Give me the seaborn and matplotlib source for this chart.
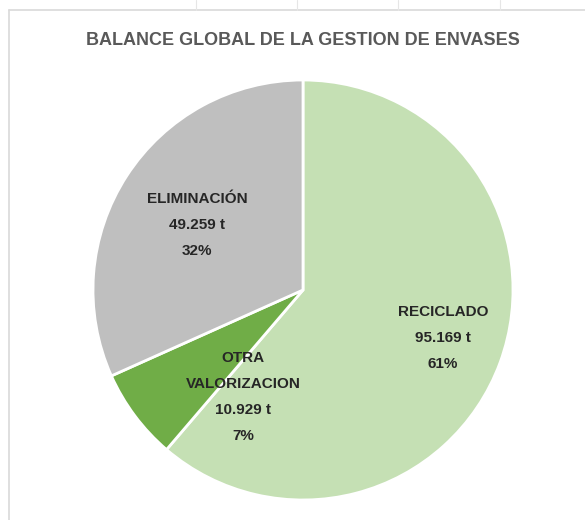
import matplotlib
matplotlib.use("Agg")
import matplotlib.pyplot as plt
import seaborn as sns
from matplotlib.lines import Line2D

sns.set_theme(style="white")
plt.rcParams['font.family'] = ['Liberation Sans', 'DejaVu Sans']

categories = ["RECICLADO", "OTRA\nVALORIZACION", "ELIMINACIÓN"]
values = [95169, 10929, 49259]
value_labels = ["95.169 t", "10.929 t", "49.259 t"]
colors = ["#C5E0B4", "#70AD47", "#BFBFBF"]
title = "BALANCE GLOBAL DE LA GESTION DE ENVASES"

W, H = 585, 520
fig = plt.figure(figsize=(W / 100, H / 100), dpi=100)

# chart border and faint sheet gridlines
border = "#D9D9D9"
fig.add_artist(Line2D([9 / W, 1], [1 - 10 / H, 1 - 10 / H], color=border, lw=1.2))
fig.add_artist(Line2D([9 / W, 9 / W], [0, 1 - 10 / H], color=border, lw=1.2))
for gx in [196, 297, 398, 500]:
    fig.add_artist(Line2D([gx / W, gx / W], [1 - 10 / H, 1], color="#E6E6E6", lw=0.8))

cx, cy, r = 303, 290, 210
ax = fig.add_axes([(cx - r) / W, (H - cy - r) / H, 2 * r / W, 2 * r / H])
wedges, _ = ax.pie(values, colors=colors, startangle=90, counterclock=False,
                   radius=1.0, wedgeprops=dict(edgecolor="white", linewidth=2))
ax.set_xlim(-1, 1)
ax.set_ylim(-1, 1)
ax.set_aspect("equal")
ax.axis("off")

total = sum(values)
label_pos = [(443, 338), (243, 397), (197, 225)]
for cat, vl, v, (px, py) in zip(categories, value_labels, values, label_pos):
    txt = f"{cat}\n{vl}\n{round(100 * v / total)}%"
    ax.text((px - cx) / r, (cy - py) / r, txt, ha="center", va="center",
            fontsize=11, fontweight="bold", color="#262626", linespacing=2.1)

fig.text(303 / W, 1 - 41 / H, title, ha="center", va="center", fontsize=13,
         fontweight="bold", color="#595959")

fig.savefig("out.png", dpi=100, facecolor="white")
